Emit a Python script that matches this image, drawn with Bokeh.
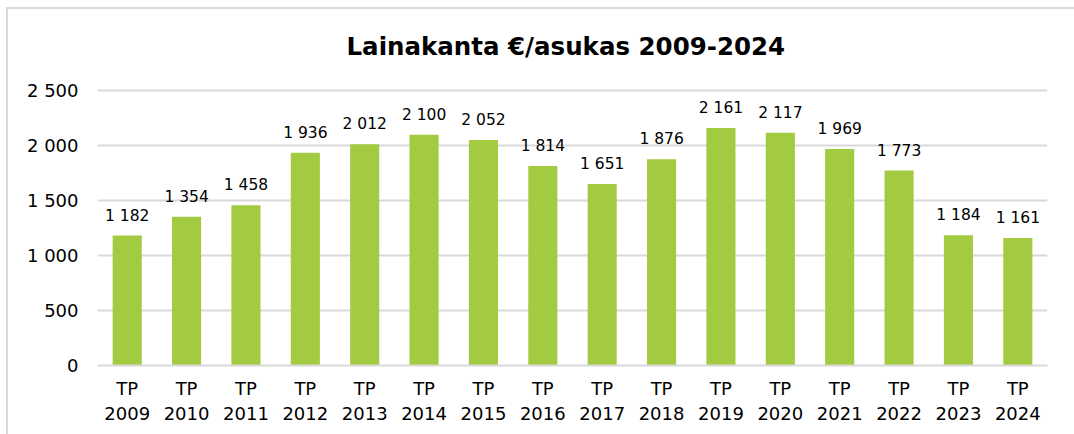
from bokeh.plotting import figure
from bokeh.models import ColumnDataSource, FactorRange, Range1d, FixedTicker, LabelSet
from bokeh.core.properties import value
from bokeh.embed import file_html
from bokeh.resources import INLINE

years = ["2009", "2010", "2011", "2012", "2013", "2014", "2015", "2016",
         "2017", "2018", "2019", "2020", "2021", "2022", "2023", "2024"]
categories = ["TP\n" + y for y in years]
values = [1182, 1354, 1458, 1936, 2012, 2100, 2052, 1814,
          1651, 1876, 2161, 2117, 1969, 1773, 1184, 1161]
value_labels = ["1 182", "1 354", "1 458", "1 936", "2 012", "2 100", "2 052", "1 814",
                "1 651", "1 876", "2 161", "2 117", "1 969", "1 773", "1 184", "1 161"]
y_ticks = [0, 500, 1000, 1500, 2000, 2500]
y_tick_labels = ["0", "500", "1 000", "1 500", "2 000", "2 500"]
title_text = "Lainakanta €/asukas 2009-2024"

FONT = "DejaVu Sans"
BAR = "#A2CB41"
GRID = "#D9D9D9"

src = ColumnDataSource(dict(cat=categories, val=values, lab=value_labels))

p = figure(width=1074, height=434, x_range=FactorRange(*categories),
           y_range=Range1d(0, 2520), output_backend="svg", toolbar_location=None,
           min_border_left=97, min_border_right=27, min_border_top=88, min_border_bottom=69)
p.border_fill_color = None
p.background_fill_color = "#FFFFFF"
p.styles = {"background": "linear-gradient(#D9D9D9, #D9D9D9) 6px 7px / 2px 100% no-repeat, "
                          "linear-gradient(#D9D9D9, #D9D9D9) 6px 7px / 100% 2px no-repeat, #FFFFFF"}

p.vbar(x="cat", top="val", width=0.49, source=src, color=BAR, line_color=None)

labels = LabelSet(x="cat", y="val", text="lab", source=src, text_align="center",
                  text_baseline="alphabetic", y_offset=15, text_font=value(FONT),
                  text_font_size="15.5px", text_color="#000000")
p.add_layout(labels)

p.title.text = title_text
p.title.align = "left"
p.title.offset = 249
p.title.text_font = FONT
p.title.text_font_size = "24.5px"
p.title.text_font_style = "bold"
p.title.text_color = "#000000"
p.title.standoff = 56

p.outline_line_color = None
p.xgrid.grid_line_color = None
p.ygrid.grid_line_color = GRID
p.ygrid.grid_line_width = 2

p.yaxis.ticker = FixedTicker(ticks=y_ticks)
p.yaxis.major_label_overrides = {t: l for t, l in zip(y_ticks, y_tick_labels)}
p.yaxis.axis_line_color = None
p.yaxis.major_tick_line_color = None
p.yaxis.minor_tick_line_color = None
p.yaxis.major_label_standoff = 13
p.yaxis.major_label_text_font = FONT
p.yaxis.major_label_text_font_size = "18px"
p.yaxis.major_label_text_color = "#000000"

p.xaxis.axis_line_color = GRID
p.xaxis.axis_line_width = 2
p.xaxis.major_tick_line_color = None
p.xaxis.minor_tick_line_color = None
p.xaxis.major_label_standoff = 6
p.xaxis.major_label_text_font = FONT
p.xaxis.major_label_text_font_size = "18px"
p.xaxis.major_label_text_color = "#000000"

open("out.html", "w").write(file_html(p, INLINE))
